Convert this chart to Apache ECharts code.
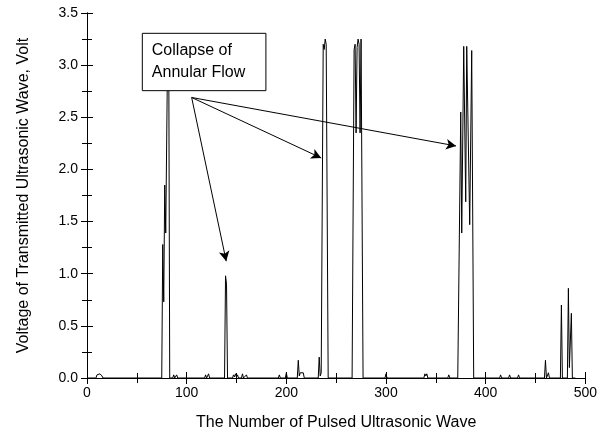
<!DOCTYPE html>
<html><head><meta charset="utf-8">
<script src="https://cdn.jsdelivr.net/npm/echarts@6/dist/echarts.min.js"></script>
<style>html,body{margin:0;padding:0;background:#fff}#c{width:600px;height:441px}</style>
</head><body><div id="c"></div>
<script>
// Pulse number (x) and transmitted voltage (y)
var pulse = [0,9,10,11,12,13,14,15,16,
  75,76,77,78,79,81,82,83,
  86,87,88,90,91,
  118,119,120,122,123,
  138,139,140,141,
  146,147,148,149,150,151,152,155,156,157,159,160,161,
  192,193,194,199,200,201,
  211,212,213,214,215,216,217,218,
  232,233,234,235,237,238,239,240,242,
  266,268,269,270,271,272,273,274,275,277,
  299,300,301,
  338,339,340,341,342,
  362,363,364,
  372,375,376,378,380,381,383,384,386,388,
  414,415,416,423,424,425,432,433,434,
  459,460,461,463,464,
  475,476,477,482,483,484,486,487,490];
var volt = [0,0,0.03,0.04,0.02,0.04,0.04,0.02,0,
  0,1.28,0.73,1.85,1.39,3.25,3.2,0,
  0,0.03,0,0.03,0,
  0,0.03,0,0.04,0,
  0,0.98,0.9,0,
  0,0.03,0.01,0.04,0.01,0.03,0,0,0.04,0,0,0.03,0,
  0,0.03,0,0,0.05,0,
  0,0.17,0.02,0.05,0.05,0.05,0.05,0,
  0,0.2,0.02,0.05,3.2,3.15,3.25,3.2,0,
  0,3.15,3.2,2.35,3.17,3.25,3.2,2.35,3.25,0,
  0,0.04,0,
  0,0.04,0.02,0.04,0,
  0,0.03,0,
  0,2.55,1.39,3.18,1.69,3.18,3.18,1.47,3.14,0,
  0,0.03,0,0,0.03,0,0,0.03,0,
  0,0.17,0,0.05,0,
  0,0.7,0,0,0.86,0.1,0.62,0,0];
var xTicks = [0,100,200,300,400,500];
var yTicks = [0.0,0.5,1.0,1.5,2.0,2.5,3.0,3.5];
var noteLines = ['Collapse of','Annular Flow'];
var noteBox = [[55,3.31],[179,2.76]];
var arrowFrom = [105,2.69];
var arrowTo = [[139.7,1.12],[235,2.11],[370.3,2.225]];

var FONT = 'Liberation Sans, Arial, sans-serif';
var chart = echarts.init(document.getElementById('c'));
var pts = pulse.map(function(x,i){return [x, volt[i]];});
function axisCommon(showLabel){
  return {
    axisLine:{show:true,lineStyle:{color:'#000',width:1}},
    axisTick:{show:true,inside:true,length:6,lineStyle:{color:'#000'}},
    minorTick:{show:true,splitNumber:2,length:5,lineStyle:{color:'#000'}},
    splitLine:{show:false},
    axisLabel:{show:showLabel,color:'#000',fontFamily:FONT,fontSize:14}
  };
}
var xb = axisCommon(true);
Object.assign(xb,{type:'value',min:xTicks[0],max:xTicks[xTicks.length-1],interval:100,position:'bottom',
  name:'The Number of Pulsed Ultrasonic Wave',nameLocation:'middle',nameGap:37,
  nameTextStyle:{color:'#000',fontFamily:FONT,fontSize:16}});
xb.axisLabel.margin = 8;
var xt = axisCommon(false);
Object.assign(xt,{type:'value',min:0,max:500,interval:100,position:'top'});
var yl = axisCommon(true);
Object.assign(yl,{type:'value',min:yTicks[0],max:yTicks[yTicks.length-1],interval:0.5,position:'left',
  name:'Voltage of Transmitted Ultrasonic Wave, Volt',nameLocation:'middle',nameGap:55,
  nameTextStyle:{color:'#000',fontFamily:FONT,fontSize:16}});
yl.axisLabel.formatter = function(v){return v.toFixed(1);};
yl.axisLabel.margin = 9;
var yr = axisCommon(false);
Object.assign(yr,{type:'value',min:0,max:3.5,interval:0.5,position:'right'});

chart.setOption({
  animation:false,
  grid:{left:87,right:13,top:13,bottom:63},
  xAxis:[xb,xt],
  yAxis:[yl,yr],
  series:[{
    type:'line',data:pts,xAxisIndex:0,yAxisIndex:0,showSymbol:false,
    lineStyle:{color:'#000',width:1},z:2,silent:true,
    markLine:{
      silent:true,symbol:['none','arrow'],symbolSize:[8,10],
      label:{show:false},lineStyle:{color:'#000',width:1,type:'solid'},
      data:arrowTo.map(function(t){return [{coord:arrowFrom},{coord:t}];})
    }
  }]
});
var p0 = chart.convertToPixel({gridIndex:0}, noteBox[0]);
var p1 = chart.convertToPixel({gridIndex:0}, noteBox[1]);
chart.setOption({graphic:[{
  type:'group',z:100,children:[
    {type:'rect',shape:{x:p0[0]+0.5,y:p0[1]+0.5,width:p1[0]-p0[0],height:p1[1]-p0[1]},
     style:{fill:'#fff',stroke:'#000',lineWidth:1},z:100},
    {type:'text',x:p0[0]+10,y:p0[1]+7,z:101,
     style:{text:noteLines.join('\n'),fill:'#000',font:'16px '+FONT,lineHeight:22,textVerticalAlign:'top'}}
  ]}]});
</script></body></html>
